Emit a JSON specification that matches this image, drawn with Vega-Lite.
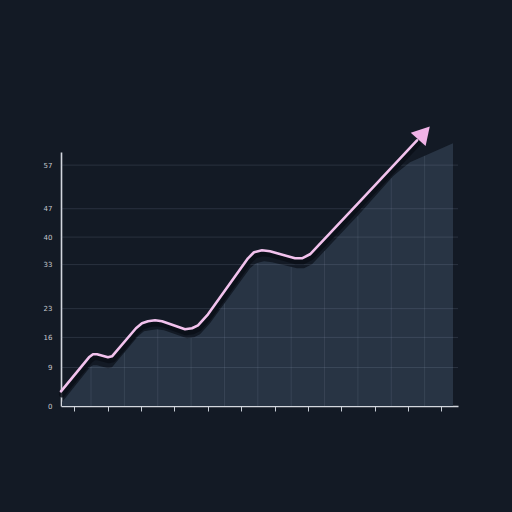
{
  "$schema": "https://vega.github.io/schema/vega-lite/v6.json",
  "width": 397,
  "height": 254,
  "autosize": {"type": "none"},
  "padding": {"left": 61, "top": 152, "right": 54, "bottom": 106},
  "background": "#131a25",
  "config": {
    "view": {"stroke": null},
    "axis": {"labelFont": "DejaVu Sans", "title": null, "grid": false, "zindex": 1},
    "axisX": {
      "labels": false, "tickSize": 5, "tickColor": "#c9ced6", "tickWidth": 1,
      "domainColor": "#d3d7de", "domainWidth": 1.6
    },
    "axisY": {
      "ticks": false, "labelFontSize": 7, "labelColor": "#c4c8ce", "labelPadding": 9,
      "domainColor": "#d3d7de", "domainWidth": 1.6
    }
  },
  "datasets": {
    "area": [
      {"x": 0.63, "y": 0.87}, {"x": 1.469, "y": 9.14}, {"x": 1.559, "y": 9.62},
      {"x": 1.679, "y": 9.62}, {"x": 2.009, "y": 8.91}, {"x": 2.129, "y": 9.14},
      {"x": 2.908, "y": 16.47}, {"x": 3.088, "y": 17.65}, {"x": 3.268, "y": 17.88},
      {"x": 3.478, "y": 18.12}, {"x": 3.688, "y": 17.88}, {"x": 4.377, "y": 15.99},
      {"x": 4.587, "y": 16.23}, {"x": 4.767, "y": 16.94}, {"x": 5.066, "y": 19.54},
      {"x": 6.266, "y": 32.53}, {"x": 6.445, "y": 33.71}, {"x": 6.685, "y": 34.18},
      {"x": 6.925, "y": 33.95}, {"x": 7.674, "y": 32.53}, {"x": 7.884, "y": 32.53},
      {"x": 8.124, "y": 33.48}, {"x": 9.563, "y": 45.52}, {"x": 10.552, "y": 54.26},
      {"x": 10.762, "y": 55.68}, {"x": 11.062, "y": 57.57}, {"x": 12.351, "y": 62.06}
    ],
    "line": [
      {"x": 0.6, "y": 3.47}, {"x": 1.439, "y": 11.5}, {"x": 1.559, "y": 12.21},
      {"x": 1.679, "y": 12.21}, {"x": 2.009, "y": 11.5}, {"x": 2.129, "y": 11.74},
      {"x": 2.848, "y": 18.36}, {"x": 3.028, "y": 19.54}, {"x": 3.208, "y": 20.01},
      {"x": 3.418, "y": 20.25}, {"x": 3.628, "y": 20.01}, {"x": 4.317, "y": 18.12},
      {"x": 4.527, "y": 18.36}, {"x": 4.707, "y": 19.06}, {"x": 5.006, "y": 21.66},
      {"x": 6.205, "y": 34.89}, {"x": 6.385, "y": 36.31}, {"x": 6.625, "y": 36.78},
      {"x": 6.865, "y": 36.55}, {"x": 7.614, "y": 34.89}, {"x": 7.824, "y": 34.89},
      {"x": 8.064, "y": 35.84}, {"x": 9.503, "y": 47.89}, {"x": 11.271, "y": 62.77}
    ],
    "arrow": [{"x": 11.48, "y": 64.5}],
    "hgrid": [
      {"y": 9.1}, {"y": 16.2}, {"y": 23}, {"y": 33.4}, {"y": 39.9}, {"y": 46.6}, {"y": 56.9}
    ],
    "vgrid": [
      {"x": 1.5, "top": 9.4}, {"x": 2.5, "top": 12.6}, {"x": 3.5, "top": 18.1},
      {"x": 4.5, "top": 16.1}, {"x": 5.5, "top": 24.2}, {"x": 6.5, "top": 33.8},
      {"x": 7.5, "top": 32.9}, {"x": 8.5, "top": 36.6}, {"x": 9.5, "top": 44.8},
      {"x": 10.5, "top": 53.8}, {"x": 11.5, "top": 59.1}
    ]
  },
  "layer": [
    {
      "data": {"name": "area"},
      "mark": {"type": "area", "interpolate": "linear", "color": "#283444", "opacity": 1},
      "encoding": {
        "x": {
          "field": "x", "type": "quantitative",
          "scale": {"domain": [0.6, 12.5], "nice": false, "zero": false},
          "axis": {"values": [1, 2, 3, 4, 5, 6, 7, 8, 9, 10, 11, 12], "tickCount": 30, "labelOverlap": false}
        },
        "y": {
          "field": "y", "type": "quantitative",
          "scale": {"domain": [0, 60], "nice": false},
          "axis": {
            "values": [0, 9.1, 16.2, 23, 33.4, 39.9, 46.6, 56.9],
            "tickCount": 30,
            "labelOverlap": false,
            "labelExpr": "format(round(datum.value), 'd')"
          }
        }
      }
    },
    {
      "data": {"name": "hgrid"},
      "mark": {"type": "rule", "color": "#9fb1c9", "opacity": 0.16, "strokeWidth": 1},
      "encoding": {
        "y": {"field": "y", "type": "quantitative"}
      }
    },
    {
      "data": {"name": "vgrid"},
      "mark": {"type": "rule", "color": "#9fb1c9", "opacity": 0.13, "strokeWidth": 1},
      "encoding": {
        "x": {"field": "x", "type": "quantitative"},
        "y": {"field": "top", "type": "quantitative"},
        "y2": {"datum": 0}
      }
    },
    {
      "data": {"name": "line"},
      "mark": {"type": "line", "interpolate": "linear", "color": "#0b0f17", "opacity": 0.85, "strokeWidth": 6, "strokeCap": "round", "strokeJoin": "round", "yOffset": 3, "xOffset": 1},
      "encoding": {
        "x": {"field": "x", "type": "quantitative"},
        "y": {"field": "y", "type": "quantitative"}
      }
    },
    {
      "data": {"name": "line"},
      "mark": {"type": "line", "interpolate": "linear", "color": "#f2c2ed", "strokeWidth": 2.6, "strokeCap": "round", "strokeJoin": "round"},
      "encoding": {
        "x": {"field": "x", "type": "quantitative"},
        "y": {"field": "y", "type": "quantitative"}
      }
    },
    {
      "data": {"name": "arrow"},
      "mark": {"type": "point", "shape": "triangle-up", "filled": true, "size": 400, "angle": 42, "color": "#f0b3e7", "opacity": 1, "strokeWidth": 0},
      "encoding": {
        "x": {"field": "x", "type": "quantitative"},
        "y": {"field": "y", "type": "quantitative"}
      }
    }
  ]
}
